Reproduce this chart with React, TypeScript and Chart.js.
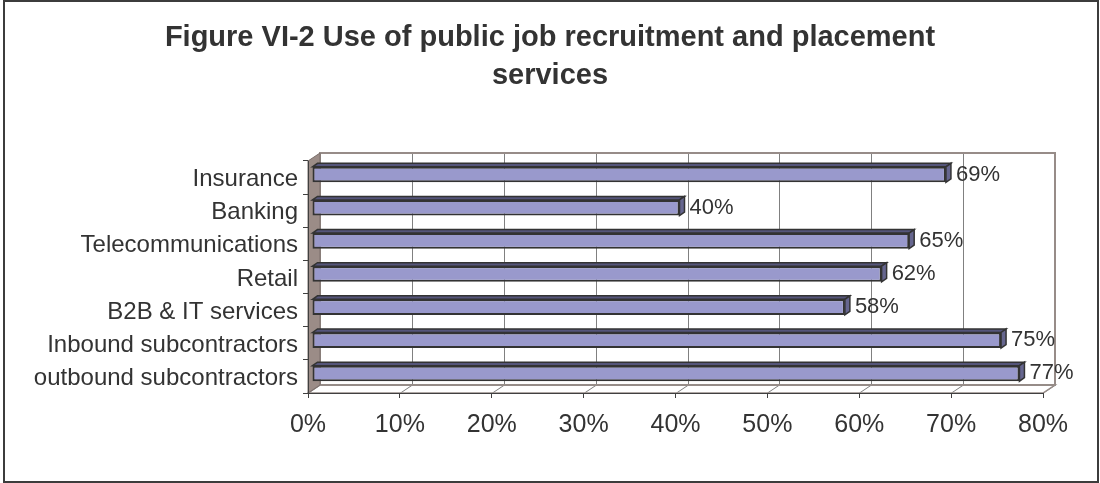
import React, { useEffect, useRef } from "react";
import { Chart, registerables } from "chart.js";

Chart.register(...registerables);

const titleLines = ["Figure VI-2 Use of public job recruitment and placement", "services"];
const categories = [
  "Insurance",
  "Banking",
  "Telecommunications",
  "Retail",
  "B2B & IT services",
  "Inbound subcontractors",
  "outbound subcontractors",
];
const values = [69, 40, 65, 62, 58, 75, 77];
const xTicks = [0, 10, 20, 30, 40, 50, 60, 70, 80];

const FONT = "'Liberation Sans', Arial, Helvetica, sans-serif";
const TEXT = "#333333";

// 3D depth of the walls and bars
const DX = 12;
const DY = -8;
const BX = 4;
const BY = -3;
const BDX = 5;
const BDY = -3.5;

function poly(ctx: CanvasRenderingContext2D, pts: number[][], fill: string | null, stroke: string | null, lw = 1) {
  ctx.beginPath();
  ctx.moveTo(pts[0][0], pts[0][1]);
  for (let i = 1; i < pts.length; i++) ctx.lineTo(pts[i][0], pts[i][1]);
  ctx.closePath();
  if (fill) {
    ctx.fillStyle = fill;
    ctx.fill();
  }
  if (stroke) {
    ctx.strokeStyle = stroke;
    ctx.lineWidth = lw;
    ctx.stroke();
  }
}

const frame3d = {
  id: "frame3d",
  beforeDraw(chart: any) {
    const { ctx, width, height, chartArea } = chart;
    const xs = chart.scales.x;
    ctx.save();
    ctx.fillStyle = "#ffffff";
    ctx.fillRect(0, 0, width, height);
    ctx.strokeStyle = "#3c3c3c";
    ctx.lineWidth = 2;
    ctx.strokeRect(4, 1, width - 6, height - 2);

    const x0 = xs.getPixelForValue(xTicks[0]);
    const x1 = xs.getPixelForValue(xTicks[xTicks.length - 1]);
    const top = chartArea.top;
    const bottom = chartArea.bottom;

    poly(ctx, [[x0 + DX, top + DY], [x1 + DX, top + DY], [x1 + DX, bottom + DY], [x0 + DX, bottom + DY]], "#ffffff", null);
    poly(ctx, [[x0, bottom], [x0 + DX, bottom + DY], [x1 + DX, bottom + DY], [x1, bottom]], "#ffffff", null);
    ctx.strokeStyle = "#808080";
    ctx.lineWidth = 1;
    xTicks.forEach((v) => {
      const px = Math.round(xs.getPixelForValue(v)) + 0.5;
      ctx.beginPath();
      ctx.moveTo(px + DX, top + DY);
      ctx.lineTo(px + DX, bottom + DY);
      ctx.lineTo(px, bottom);
      ctx.stroke();
    });
    poly(ctx, [[x0 + DX, top + DY], [x1 + DX, top + DY], [x1 + DX, bottom + DY], [x0 + DX, bottom + DY]], null, "#978c88", 2);
    poly(ctx, [[x0, bottom], [x0 + DX, bottom + DY], [x1 + DX, bottom + DY], [x1, bottom]], null, "#978c88", 1.5);
    poly(ctx, [[x0, top], [x0 + DX, top + DY], [x0 + DX, bottom + DY], [x0, bottom]], "#9b8c87", "#7a6e6a", 1);
    ctx.restore();
  },
  beforeDatasetsDraw(chart: any) {
    chart.ctx.save();
    chart.ctx.translate(BX, BY);
  },
  afterDatasetsDraw(chart: any) {
    const ctx = chart.ctx;
    ctx.restore();
    ctx.save();
    const meta = chart.getDatasetMeta(0);
    meta.data.forEach((el: any, i: number) => {
      const { x, y, base, height } = el.getProps(["x", "y", "base", "height"], true);
      const l = base + BX;
      const r = x + BX;
      const t = y - height / 2 + BY;
      const b = y + height / 2 + BY;
      poly(ctx, [[l, t], [l + BDX, t + BDY], [r + BDX, t + BDY], [r, t]], "#55557a", "#333333", 1.5);
      poly(ctx, [[r, t], [r + BDX, t + BDY], [r + BDX, b + BDY], [r, b]], "#66668f", "#333333", 1.5);
      ctx.fillStyle = TEXT;
      ctx.font = `22px ${FONT}`;
      ctx.textAlign = "left";
      ctx.textBaseline = "middle";
      ctx.fillText(`${values[i]}%`, r + BDX + 5, y + BY);
    });
    ctx.restore();
  },
};

export default function App() {
  const ref = useRef<HTMLCanvasElement | null>(null);
  useEffect(() => {
    if (!ref.current) return;
    Chart.defaults.font.family = FONT;
    const chart = new Chart(ref.current, {
      type: "bar",
      data: {
        labels: categories,
        datasets: [
          {
            data: values,
            backgroundColor: "#9999cc",
            borderColor: "#333333",
            borderWidth: 2,
            borderSkipped: false,
            barPercentage: 0.47,
            categoryPercentage: 1,
            clip: false,
          } as any,
        ],
      },
      options: {
        indexAxis: "y",
        animation: false,
        responsive: false,
        devicePixelRatio: 1,
        layout: { padding: { left: 0, right: 0, top: 0, bottom: 0 } },
        plugins: {
          legend: { display: false },
          tooltip: { enabled: false },
          title: {
            display: true,
            text: titleLines,
            color: TEXT,
            font: { size: 29, weight: "bold", family: FONT, lineHeight: 1.3 },
            padding: { top: 19, bottom: 66.6 },
          },
        },
        scales: {
          x: {
            type: "linear",
            position: "bottom",
            min: xTicks[0],
            max: xTicks[xTicks.length - 1],
            afterBuildTicks: (s: any) => {
              s.ticks = xTicks.map((v) => ({ value: v }));
            },
            ticks: {
              callback: (v: any) => `${v}%`,
              font: { size: 25, family: FONT },
              color: TEXT,
              padding: 12,
              maxRotation: 0,
              autoSkip: false,
            },
            grid: { drawOnChartArea: false, drawTicks: true, tickLength: 5, color: "#404040" },
            border: { display: true, color: "#404040", width: 1 },
            afterFit: (s: any) => {
              s.height = 90;
            },
          },
          y: {
            type: "category",
            labels: categories,
            ticks: { font: { size: 24, family: FONT }, color: TEXT, padding: 5, autoSkip: false, labelOffset: 2 },
            grid: { offset: true, drawOnChartArea: false, drawTicks: true, tickLength: 5, color: "#404040" },
            border: { display: true, color: "#404040", width: 1 },
            afterFit: (s: any) => {
              s.width = 308;
            },
          },
          y2: {
            type: "linear",
            position: "right",
            display: true,
            ticks: { display: false },
            grid: { display: false, drawTicks: false },
            border: { display: false },
            afterFit: (s: any) => {
              s.width = 57;
            },
          },
        },
      } as any,
      plugins: [frame3d],
    });
    return () => chart.destroy();
  }, []);
  return (
    <div style={{ position: "fixed", left: 0, top: 0, width: 1100, height: 483, background: "#fff" }}>
      <canvas ref={ref} width={1100} height={483} style={{ display: "block" }} />
    </div>
  );
}
